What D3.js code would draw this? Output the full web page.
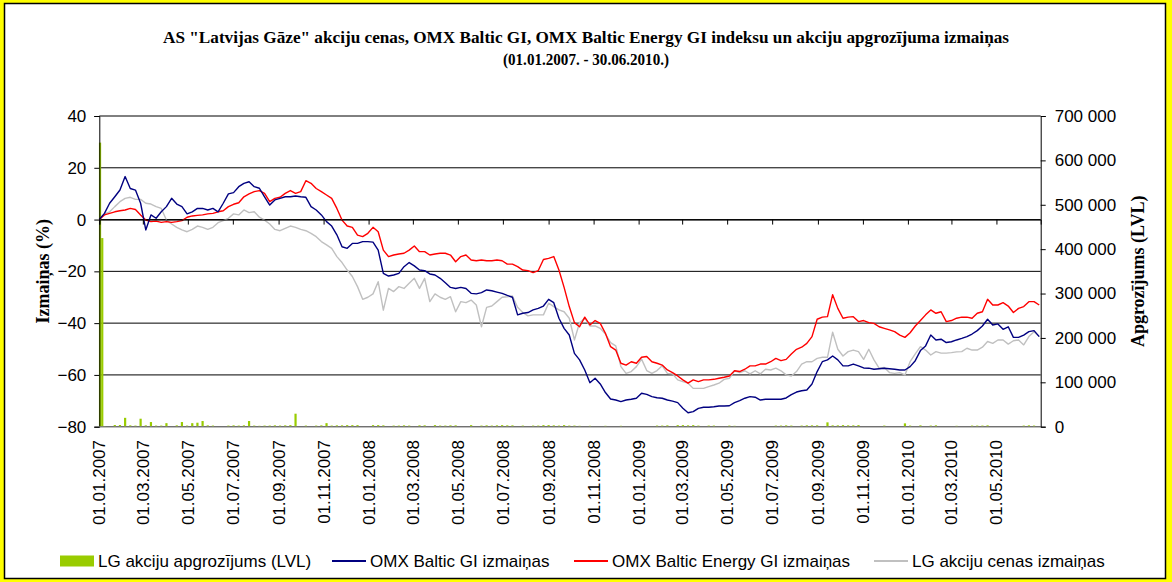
<!DOCTYPE html>
<html>
<head>
<meta charset="utf-8">
<script src="https://cdn.jsdelivr.net/npm/d3@7"></script>
<style>
  body { margin: 0; background: #ffff00; }
  svg { display: block; }
  text { font-family: Arial, "Liberation Sans", sans-serif; fill: #000; }
  .serif { font-family: "Times New Roman", "Liberation Serif", serif; font-weight: bold; }
</style>
</head>
<body>
<svg id="chart" width="1172" height="582"></svg>
<script>
// --- DATA ---
const titleLines = [
  'AS "Latvijas Gāze" akciju cenas, OMX Baltic GI, OMX Baltic Energy GI indeksu un akciju apgrozījuma izmaiņas',
  "(01.01.2007. - 30.06.2010.)"
];
const leftTitle = "Izmaiņas (%)";
const rightTitle = "Apgrozījums (LVL)";
const leftTicks = [40, 20, 0, -20, -40, -60, -80];
const rightTicks = [0, 100000, 200000, 300000, 400000, 500000, 600000, 700000];
const xTickLabels = ["01.01.2007", "01.03.2007", "01.05.2007", "01.07.2007", "01.09.2007", "01.11.2007",
  "01.01.2008", "01.03.2008", "01.05.2008", "01.07.2008", "01.09.2008", "01.11.2008",
  "01.01.2009", "01.03.2009", "01.05.2009", "01.07.2009", "01.09.2009", "01.11.2009",
  "01.01.2010", "01.03.2010", "01.05.2010"];
const legendNames = ["LG akciju apgrozījums (LVL)", "OMX Baltic GI izmaiņas",
  "OMX Baltic Energy GI izmaiņas", "LG akciju cenas izmaiņas"];

// weekly readings, first week starting 01.01.2007
const firstWeek = "2007-01-01";

const omxBalticGI = [0, 2.4, 6.3, 8.8, 11.4, 16.6, 12.0, 11.4, 6.3, -4.0,
  1.8, 0.5, 3.0, 5.0, 8.2, 6.0, 5.0, 2.2, 3.0, 4.3,
  4.3, 3.7, 4.3, 3.0, 6.3, 9.9, 10.4, 12.7, 14.0, 14.6,
  12.7, 12.1, 8.8, 5.6, 7.6, 8.2, 8.8, 8.8, 9.1, 8.8,
  8.6, 5.0, 3.7, 1.8, -0.8, -2.5, -5.9, -10.5, -11.1, -9.2,
  -9.2, -8.5, -8.5, -8.7, -11.8, -20.8, -21.8, -21.4, -20.8, -18.2,
  -16.6, -17.9, -19.5, -19.7, -21.0, -21.4, -22.7, -24.4, -26.2, -26.6,
  -26.2, -26.6, -28.5, -28.7, -28.2, -27.2, -27.5, -28.0, -28.5, -29.3,
  -30.0, -36.8, -36.2, -35.9, -34.9, -34.3, -33.4, -30.8, -32.1, -38.1,
  -42.0, -44.6, -51.7, -54.2, -58.1, -63.0, -61.3, -63.5, -66.8, -69.3,
  -69.7, -70.3, -69.7, -69.4, -69.0, -67.1, -67.5, -68.4, -68.8, -69.0,
  -69.7, -70.1, -70.7, -72.9, -74.6, -74.2, -72.9, -72.5, -72.5, -72.3,
  -72.0, -72.0, -71.9, -70.7, -69.9, -69.0, -68.4, -68.6, -69.7, -69.4,
  -69.4, -69.4, -69.4, -68.9, -67.6, -66.6, -66.1, -65.8, -63.5, -58.7,
  -54.9, -54.2, -52.7, -54.2, -56.5, -56.5, -55.8, -56.5, -57.3, -57.4,
  -57.8, -57.6, -57.4, -57.6, -57.8, -58.1, -58.1, -56.8, -54.5, -50.6,
  -48.8, -44.6, -46.5, -46.2, -47.5, -47.2, -46.5, -45.9, -45.2, -44.2,
  -42.9, -41.1, -38.5, -40.7, -40.3, -42.4, -41.4, -45.5, -45.5, -44.6,
  -43.3, -42.9, -45.2];

const omxEnergyGI = [0, 1.8, 2.4, 3.0, 3.4, 3.7, 4.3, 3.9, 1.8, -0.2,
  -0.8, -0.6, -1.1, -0.8, -1.1, -0.8, -0.4, 0.9, 1.4, 1.6,
  1.8, 2.2, 2.4, 3.0, 3.4, 5.0, 5.9, 6.5, 8.8, 9.9,
  10.8, 11.2, 10.1, 6.9, 8.2, 8.6, 10.1, 11.2, 10.1, 10.8,
  15.0, 14.0, 12.0, 10.8, 9.5, 8.2, 4.3, -0.2, -2.5, -3.0,
  -6.0, -6.6, -5.3, -3.0, -4.7, -11.8, -14.3, -13.7, -13.3, -13.0,
  -11.8, -10.2, -12.4, -12.4, -13.7, -13.3, -13.0, -13.0, -13.7, -16.3,
  -14.3, -13.7, -15.6, -15.9, -15.6, -15.9, -15.9, -15.6, -15.9, -17.2,
  -17.2, -18.2, -19.5, -19.7, -20.5, -19.7, -15.4, -15.0, -14.3, -19.5,
  -26.2, -33.6, -39.8, -41.4, -37.7, -40.7, -39.0, -40.1, -43.9, -49.1,
  -50.4, -55.5, -56.2, -54.9, -55.5, -53.2, -52.9, -54.9, -55.5, -56.2,
  -58.1, -59.1, -60.4, -61.9, -63.2, -61.9, -62.6, -61.9, -61.9, -61.7,
  -61.3, -60.9, -60.4, -58.4, -58.7, -57.8, -56.5, -56.5, -55.8, -55.8,
  -54.9, -53.6, -54.5, -54.0, -51.9, -50.1, -49.3, -47.8, -45.2, -38.5,
  -37.7, -37.5, -29.0, -34.3, -38.1, -37.7, -37.5, -39.4, -39.0, -39.8,
  -40.1, -41.4, -42.0, -42.6, -43.3, -44.6, -45.5, -43.7, -41.1, -39.0,
  -36.8, -34.9, -36.2, -35.6, -39.4, -39.0, -38.1, -37.7, -37.7, -38.1,
  -36.2, -35.6, -30.8, -33.0, -33.0, -32.1, -33.4, -35.9, -34.3, -33.6,
  -31.7, -31.7, -33.0];

const lgPrice = [0, 2.2, 3.0, 5.0, 6.9, 8.2, 8.6, 7.8, 7.8, 6.3,
  6.0, 5.0, 4.3, -0.2, -1.7, -3.0, -4.0, -4.7, -3.8, -2.5,
  -3.0, -3.8, -3.0, -1.2, -0.4, 0.5, 2.2, 1.8, 3.7, 2.7,
  3.0, 0.9, -0.2, -1.7, -3.8, -4.3, -3.4, -2.5, -3.0, -3.8,
  -4.3, -5.3, -6.6, -8.5, -9.8, -11.1, -14.3, -16.6, -19.5, -22.0,
  -25.9, -30.8, -30.0, -28.7, -24.0, -35.0, -26.6, -27.8, -25.9, -26.6,
  -24.6, -22.7, -26.6, -22.7, -31.7, -28.7, -30.0, -30.8, -29.8, -35.6,
  -31.7, -32.1, -31.1, -33.0, -41.4, -33.9, -33.4, -31.7, -30.0, -29.8,
  -29.5, -33.9, -35.9, -37.2, -36.8, -36.8, -36.8, -32.3, -33.6, -34.9,
  -35.6, -38.1, -46.5, -39.8, -38.1, -41.1, -41.1, -42.0, -44.2, -47.5,
  -48.8, -56.8, -59.4, -58.7, -56.8, -53.9, -58.3, -59.4, -58.3, -56.5,
  -59.4, -59.6, -61.9, -62.6, -63.2, -65.2, -65.2, -65.2, -64.5, -63.9,
  -63.2, -61.7, -61.3, -58.4, -59.1, -58.4, -59.6, -58.4, -59.6, -57.8,
  -58.1, -57.4, -58.4, -60.0, -60.4, -58.7, -55.8, -54.9, -54.9, -53.6,
  -53.2, -53.2, -43.5, -50.1, -52.7, -51.0, -50.4, -51.0, -54.0, -50.1,
  -54.2, -57.4, -57.1, -59.1, -59.4, -59.1, -60.0, -54.9, -51.9, -49.1,
  -50.4, -52.3, -51.0, -51.6, -51.6, -51.4, -51.1, -51.0, -49.7, -50.4,
  -50.4, -49.3, -47.1, -47.8, -46.5, -46.5, -48.1, -46.8, -46.5, -48.4,
  -45.2, -43.3, -45.2];

// turnover (LVL), same weeks; the first days are kept apart
const openingDays = ["2007-01-02", "2007-01-05"];
const openingVolume = [640000, 425000];
const lgVolume = [0, 1500, 0, 3800, 3800, 20000, 3000, 2500, 18000, 3000,
  10500, 2500, 2500, 8000, 0, 3000, 10500, 2500, 8000, 9000,
  12800, 3000, 2500, 0, 0, 2500, 3000, 2500, 3000, 12800,
  2500, 2000, 2500, 2500, 3000, 2500, 3000, 3500, 29300, 0,
  2500, 0, 2500, 3000, 8000, 2500, 3000, 3000, 3500, 3500,
  3500, 0, 0, 3500, 3500, 3000, 0, 2500, 2500, 3000,
  2500, 0, 3000, 3000, 0, 3500, 2500, 2500, 3000, 3000,
  0, 0, 3500, 0, 2500, 3000, 2500, 3000, 3500, 3000,
  3000, 0, 2500, 0, 2500, 2500, 3500, 3500, 3000, 2500,
  3500, 2500, 2500, 2000, 0, 2000, 0, 0, 2000, 0,
  0, 2000, 0, 0, 0, 0, 0, 0, 2500, 2500,
  3000, 0, 3500, 3500, 3000, 3500, 2500, 0, 2500, 2500,
  0, 0, 2500, 2000, 0, 0, 0, 0, 0, 0,
  0, 2500, 2500, 3000, 2500, 0, 2500, 3000, 3000, 3000,
  0, 9800, 3000, 3000, 3500, 3000, 3000, 3500, 0, 0,
  0, 0, 2500, 0, 0, 0, 7500, 2500, 0, 3000,
  0, 2500, 3000, 0, 0, 0, 2000, 0, 0, 2500,
  2500, 2500, 3000, 0, 0, 0, 0, 0, 0, 2500,
  3000, 2500, 0];

// --- SETUP ---
const parseDay = d3.timeParse("%Y-%m-%d");
const parseLabel = d3.timeParse("%d.%m.%Y");
const start = parseDay(firstWeek);
const weeks = omxBalticGI.map((_, i) => d3.timeDay.offset(start, 7 * i));

const plot = { left: 99.3, right: 1040.7, top: 116, bottom: 426.7 };

const svg = d3.select("#chart");

// frame
svg.append("rect").attr("x", 4.5).attr("y", 3.5).attr("width", 1161).attr("height", 575)
  .attr("fill", "#fff").attr("stroke", "#000").attr("stroke-width", 1.5);

// scales
const x = d3.scaleTime()
  .domain([parseDay("2007-01-01"), parseDay("2010-06-30")])
  .range([plot.left, plot.right]);
const yLeft = d3.scaleLinear().domain([-80, 40]).range([plot.bottom, plot.top]);
const yRight = d3.scaleLinear().domain([0, 700000]).range([plot.bottom, plot.top]);

// gridlines
svg.append("g").selectAll("line").data(leftTicks).join("line")
  .attr("x1", plot.left).attr("x2", plot.right)
  .attr("y1", d => yLeft(d)).attr("y2", d => yLeft(d))
  .attr("stroke", "#000").attr("stroke-width", 1);

// volume bars
const barW = 2.2;
const bars = svg.append("g").attr("fill", "#99cc00");
bars.selectAll("rect.week").data(lgVolume.map((v, i) => ({ d: weeks[i], v })).filter(b => b.v > 0))
  .join("rect").attr("class", "week")
  .attr("x", b => x(b.d) - barW / 2).attr("width", barW)
  .attr("y", b => yRight(b.v)).attr("height", b => yRight(0) - yRight(b.v));
bars.selectAll("rect.open").data(openingDays.map((d, i) => ({ d: parseDay(d), v: openingVolume[i] })))
  .join("rect").attr("class", "open")
  .attr("x", b => x(b.d) - barW / 2).attr("width", barW)
  .attr("y", b => yRight(b.v)).attr("height", b => yRight(0) - yRight(b.v));

// lines
const line = d3.line().x((d, i) => x(weeks[i])).y(d => yLeft(d));
const series = [
  { values: lgPrice, color: "#c0c0c0" },
  { values: omxEnergyGI, color: "#ff0000" },
  { values: omxBalticGI, color: "#000080" }
];
svg.append("g").selectAll("path").data(series).join("path")
  .attr("fill", "none").attr("stroke", s => s.color).attr("stroke-width", 1.4)
  .attr("stroke-linejoin", "round")
  .attr("d", s => line(s.values));

// left axis
const axL = svg.append("g").attr("transform", `translate(${plot.left},0)`)
  .call(d3.axisLeft(yLeft).tickValues(leftTicks).tickSize(5).tickPadding(8).tickFormat(d3.format("d")));
axL.select(".domain").attr("stroke", "#000");
axL.selectAll("text").attr("font-size", 17).attr("font-family", "Arial, 'Liberation Sans', sans-serif");

// right axis
const fmtSpace = d => d3.format(",")(d).replace(/,/g, " ");
const axR = svg.append("g").attr("transform", `translate(${plot.right},0)`)
  .call(d3.axisRight(yRight).tickValues(rightTicks).tickSize(5).tickPadding(9).tickFormat(fmtSpace));
axR.select(".domain").attr("stroke", "#000");
axR.selectAll("text").attr("font-size", 17).attr("font-family", "Arial, 'Liberation Sans', sans-serif");

// bottom line of plot
svg.append("line").attr("x1", plot.left).attr("x2", plot.right)
  .attr("y1", plot.bottom).attr("y2", plot.bottom).attr("stroke", "#808080");

// x axis crosses at 0 with ticks, labels low
const tickDates = xTickLabels.map(parseLabel);
const axX = svg.append("g").attr("transform", `translate(0,${yLeft(0)})`)
  .call(d3.axisBottom(x).tickValues(tickDates).tickSize(5).tickFormat(""));
axX.select(".domain").attr("stroke", "#000");

svg.append("g").selectAll("text").data(xTickLabels).join("text")
  .attr("transform", d => `translate(${x(parseLabel(d))},440) rotate(-90)`)
  .attr("text-anchor", "end").attr("dy", "0.35em")
  .attr("font-size", 17).text(d => d);

// titles
const titleWidths = [846, 166];
svg.append("g").selectAll("text").data(titleLines).join("text")
  .attr("class", "serif")
  .attr("x", 586).attr("y", (d, i) => 43 + i * 22)
  .attr("text-anchor", "middle").attr("font-size", 17)
  .attr("textLength", (d, i) => titleWidths[i]).attr("lengthAdjust", "spacingAndGlyphs")
  .text(d => d);

svg.append("text").attr("class", "serif")
  .attr("transform", `translate(49,${(plot.top + plot.bottom) / 2}) rotate(-90)`)
  .attr("text-anchor", "middle").attr("font-size", 18).text(leftTitle);
svg.append("text").attr("class", "serif")
  .attr("transform", `translate(1144,${(plot.top + plot.bottom) / 2}) rotate(-90)`)
  .attr("text-anchor", "middle").attr("font-size", 18).text(rightTitle);

// legend
const legendY = 561;
const legend = svg.append("g").attr("font-size", 17);
const legendItems = [
  { name: legendNames[0], color: "#99cc00", box: true, x: 60 },
  { name: legendNames[1], color: "#000080", x: 332 },
  { name: legendNames[2], color: "#ff0000", x: 574 },
  { name: legendNames[3], color: "#c0c0c0", x: 874 }
];
legendItems.forEach(it => {
  if (it.box) {
    legend.append("rect").attr("x", it.x).attr("y", legendY - 5.5).attr("width", 34).attr("height", 11)
      .attr("fill", it.color);
  } else {
    legend.append("line").attr("x1", it.x).attr("x2", it.x + 34)
      .attr("y1", legendY).attr("y2", legendY).attr("stroke", it.color).attr("stroke-width", 2);
  }
  legend.append("text").attr("x", it.x + 38).attr("y", legendY).attr("dy", "0.35em")
    .text(it.name);
});
</script>
</body>
</html>
